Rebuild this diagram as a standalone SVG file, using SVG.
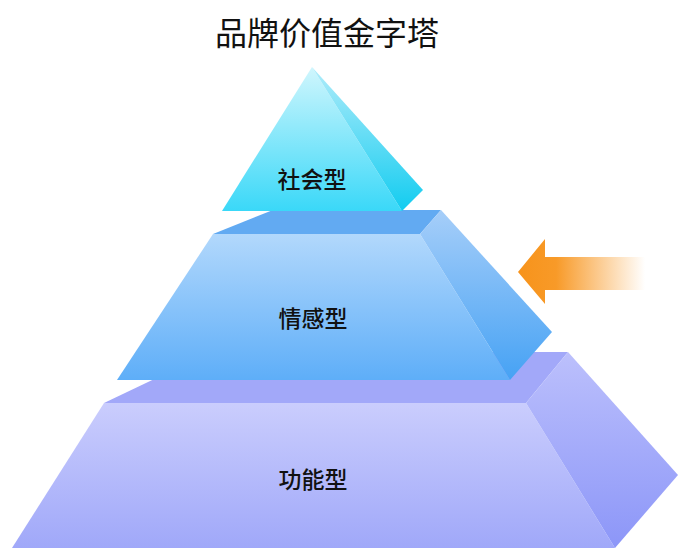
<svg xmlns="http://www.w3.org/2000/svg" width="696" height="554" viewBox="0 0 696 554">
<style>
.lbl{font-family:"Noto Sans CJK SC","Noto Sans",sans-serif;font-size:23px;font-weight:500;fill:#111;text-anchor:middle;dominant-baseline:central}
.title{font-family:"Noto Sans CJK SC","Noto Sans",sans-serif;font-size:32px;fill:#111;text-anchor:middle;dominant-baseline:central}
</style>
<defs>
<linearGradient id="tf" x1="0" y1="0" x2="0" y2="1"><stop offset="0" stop-color="#d0f6fd"/><stop offset="1" stop-color="#3ad8f8"/></linearGradient>
<linearGradient id="ts" x1="0" y1="0" x2="0" y2="1"><stop offset="0" stop-color="#b0ecfa"/><stop offset="1" stop-color="#12ccf0"/></linearGradient>
<linearGradient id="mf" x1="0" y1="0" x2="0" y2="1"><stop offset="0" stop-color="#b2d8fc"/><stop offset="1" stop-color="#5eaef8"/></linearGradient>
<linearGradient id="ms" x1="0" y1="0" x2="0" y2="1"><stop offset="0" stop-color="#a6cef9"/><stop offset="1" stop-color="#46a2f4"/></linearGradient>
<linearGradient id="bf" x1="0" y1="0" x2="0" y2="1"><stop offset="0" stop-color="#cacdfd"/><stop offset="1" stop-color="#a0a8f9"/></linearGradient>
<linearGradient id="bs" x1="0" y1="0" x2="0" y2="1"><stop offset="0" stop-color="#bcc0fc"/><stop offset="1" stop-color="#8c96f8"/></linearGradient>
<linearGradient id="ar" gradientUnits="userSpaceOnUse" x1="518" x2="645" y1="0" y2="0"><stop offset="0" stop-color="#f7931b"/><stop offset="0.3" stop-color="#f89a28"/><stop offset="1" stop-color="#ffffff"/></linearGradient>
</defs>
<text class="title" x="327" y="31">品牌价值金字塔</text>
<g id="level-functional">
<polygon points="104,403 211,352 568,352 526,403" fill="#a2a8f9"/>
<polygon points="104,403 526,403 615,548 12,548" fill="url(#bf)"/>
<polygon points="526,403 568,352 678,475 615,548" fill="url(#bs)"/>
<text class="lbl" x="313" y="478">功能型</text>
</g>
<g id="level-emotional">
<polygon points="213,234 273,210 441,210 420,234" fill="#62aaf2"/>
<polygon points="213,234 420,234 510,380 117,380" fill="url(#mf)"/>
<polygon points="420,234 441,210 552,332 510,380" fill="url(#ms)"/>
<text class="lbl" x="313" y="317">情感型</text>
</g>
<g id="level-social">
<polygon points="312,67 222,211 402,211" fill="url(#tf)"/>
<polygon points="312,67 423,190 402,211" fill="url(#ts)"/>
<text class="lbl" x="312" y="178">社会型</text>
</g>
<g id="connectors">
<polygon points="518,272 545,239 545,257 645,257 645,290 545,290 545,304" fill="url(#ar)"/>
</g>
</svg>
